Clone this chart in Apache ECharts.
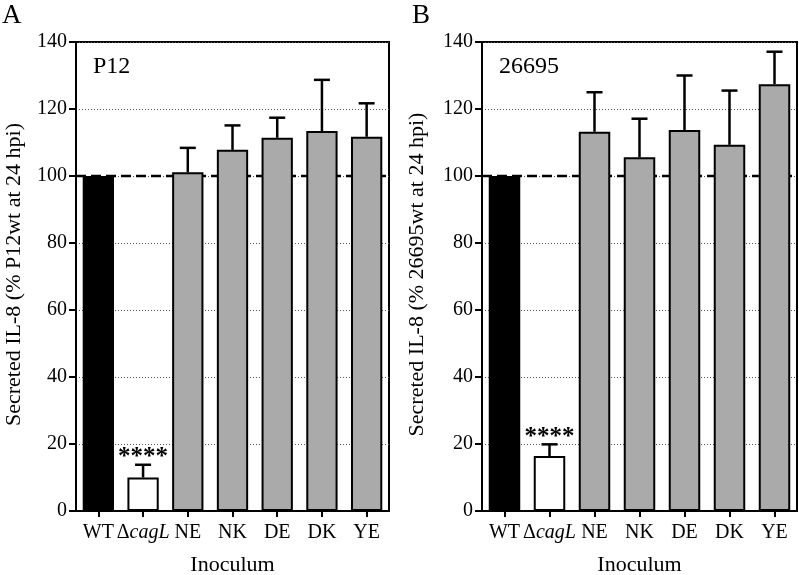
<!DOCTYPE html>
<html>
<head>
<meta charset="utf-8">
<script src="https://cdn.jsdelivr.net/npm/echarts@6/dist/echarts.min.js"></script>
<style>
html,body{margin:0;padding:0;background:#fff;}
#chart{width:799px;height:575px;}
</style>
</head>
<body>
<div id="chart"></div>
<script>
// ---- data ----
var categories = ['WT', 'ΔcagL', 'NE', 'NK', 'DE', 'DK', 'YE'];
var yTicks = [0, 20, 40, 60, 80, 100, 120, 140];
var p12Mean = [100, 10.0, 101.1, 107.8, 111.4, 113.4, 111.7];
var p12Err  = [0, 3.8, 7.3, 7.3, 6.0, 15.3, 10.0];
var s26695Mean = [100, 16.4, 113.2, 105.6, 113.7, 109.3, 127.4];
var s26695Err  = [0, 3.5, 11.8, 11.5, 16.3, 16.2, 9.7];
var significance = ['', '****', '', '', '', '', ''];
var referenceLevel = 100;
var panelLetters = ['A', 'B'];
var strainLabels = ['P12', '26695'];
var yTitles = ['Secreted IL-8 (% P12wt at 24 hpi)', 'Secreted IL-8 (% 26695wt at 24 hpi)'];
var xTitle = 'Inoculum';

// ---- styles ----
var FONT = 'Liberation Serif';
var fills = ['#000000', '#ffffff', '#aaaaaa', '#aaaaaa', '#aaaaaa', '#aaaaaa', '#aaaaaa'];

var chart = echarts.init(document.getElementById('chart'), null, {renderer: 'canvas'});

function xAxisFor(idx) {
  return {
    type: 'category', gridIndex: idx, data: categories,
    axisLine: {show: true, lineStyle: {color: '#000', width: 2}},
    axisTick: {show: true, alignWithLabel: true, interval: 0, length: 6, lineStyle: {color: '#000', width: 2}},
    axisLabel: {
      interval: 0, color: '#000', fontFamily: FONT, fontSize: 20, margin: 12,
      formatter: function (v) {
        if (v.charAt(0) === 'Δ') return '{n|Δ}{i|' + v.slice(1) + '}';
        return '{n|' + v + '}';
      },
      rich: {
        n: {fontFamily: FONT, fontSize: 20, color: '#000'},
        i: {fontFamily: FONT, fontSize: 20, fontStyle: 'italic', color: '#000'}
      }
    },
    splitLine: {show: false},
    name: xTitle, nameLocation: 'middle', nameGap: 43,
    nameTextStyle: {color: '#000', fontFamily: FONT, fontSize: 22}
  };
}
function yAxisFor(idx, gap) {
  return {
    type: 'value', gridIndex: idx, min: yTicks[0], max: yTicks[yTicks.length - 1], interval: 20,
    axisLine: {show: true, lineStyle: {color: '#000', width: 2}},
    axisTick: {show: true, length: 7, lineStyle: {color: '#000', width: 2}},
    axisLabel: {color: '#000', fontFamily: FONT, fontSize: 20, margin: 9},
    splitLine: {show: true, lineStyle: {type: [1, 2], color: '#555', width: 1}},
    name: yTitles[idx], nameLocation: 'middle', nameRotate: 90, nameGap: gap,
    nameTextStyle: {color: '#000', fontFamily: FONT, fontSize: 22, padding: [0, 0, 0, 4]}
  };
}

function barSeries(idx, means) {
  return {
    type: 'bar', xAxisIndex: idx, yAxisIndex: idx, data: means, barWidth: '70%', z: 3,
    itemStyle: {
      borderColor: '#000', borderWidth: 2,
      color: function (p) { return fills[p.dataIndex]; }
    },
    emphasis: {disabled: true}, animation: false
  };
}
function refLineSeries(idx) {
  return {
    type: 'custom', xAxisIndex: idx, yAxisIndex: idx, z: 2, animation: false, silent: true,
    data: [[0, referenceLevel]],
    renderItem: function (params, api) {
      var cs = params.coordSys;
      var y = api.coord([0, api.value(1)])[1];
      return {
        type: 'line',
        shape: {x1: cs.x, y1: y, x2: cs.x + cs.width, y2: y},
        style: {stroke: '#000', lineWidth: 2.5, lineDash: [10, 5]}
      };
    }
  };
}
function errSeries(idx, means, errs) {
  var d = means.map(function (m, i) { return [i, m, errs[i], i]; });
  return {
    type: 'custom', xAxisIndex: idx, yAxisIndex: idx, z: 4, animation: false, silent: true,
    data: d,
    renderItem: function (params, api) {
      var i = api.value(0), m = api.value(1), e = api.value(2);
      var base = api.coord([i, m]);
      var top = api.coord([i, m + e]);
      var children = [];
      if (e > 0) {
        children.push({type: 'line', shape: {x1: base[0], y1: base[1], x2: top[0], y2: top[1]},
          style: {stroke: '#000', lineWidth: 2.5}});
        children.push({type: 'line', shape: {x1: top[0] - 8, y1: top[1], x2: top[0] + 8, y2: top[1]},
          style: {stroke: '#000', lineWidth: 2.5}});
      }
      var s = significance[api.value(3)];
      if (s) {
        children.push({type: 'text', x: top[0], y: top[1] - 7,
          style: {text: s, fontFamily: FONT, fontSize: 25, fontWeight: 'bold', fill: '#000', align: 'center', verticalAlign: 'middle'}});
      }
      return {type: 'group', children: children};
    }
  };
}

var option = {
  backgroundColor: '#fff',
  animation: false,
  grid: [
    {left: 76, top: 42, width: 313, height: 469, show: true, borderColor: '#000', borderWidth: 2, backgroundColor: 'transparent', containLabel: false, outerBoundsMode: 'none'},
    {left: 482, top: 42, width: 315, height: 469, show: true, borderColor: '#000', borderWidth: 2, backgroundColor: 'transparent', containLabel: false, outerBoundsMode: 'none'}
  ],
  title: [
    {text: panelLetters[0], left: -3, top: -3, textStyle: {fontFamily: FONT, fontSize: 27, fontWeight: 'normal', color: '#000'}},
    {text: panelLetters[1], left: 407, top: -3, textStyle: {fontFamily: FONT, fontSize: 27, fontWeight: 'normal', color: '#000'}},
    {text: strainLabels[0], left: 88, top: 50, textStyle: {fontFamily: FONT, fontSize: 24, fontWeight: 'normal', color: '#000'}},
    {text: strainLabels[1], left: 494, top: 50, textStyle: {fontFamily: FONT, fontSize: 24, fontWeight: 'normal', color: '#000'}}
  ],
  xAxis: [xAxisFor(0), xAxisFor(1)],
  yAxis: [yAxisFor(0, 51), yAxisFor(1, 54)],
  series: [
    refLineSeries(0), barSeries(0, p12Mean), errSeries(0, p12Mean, p12Err),
    refLineSeries(1), barSeries(1, s26695Mean), errSeries(1, s26695Mean, s26695Err)
  ]
};
chart.setOption(option);
</script>
</body>
</html>
